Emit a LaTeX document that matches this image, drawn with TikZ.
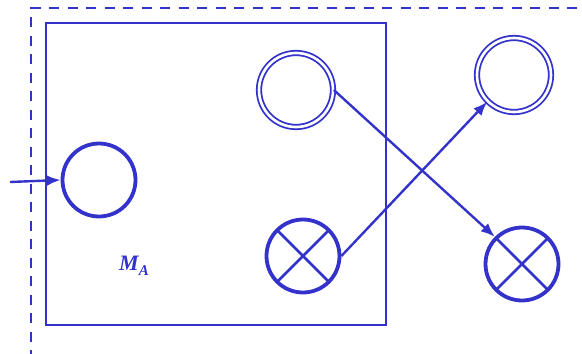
\documentclass[tikz,border=0pt]{standalone}
\usepackage{fontspec}
\newfontfamily\lserif{Liberation Serif}
\usetikzlibrary{arrows.meta}
\definecolor{bl}{RGB}{51,51,204}
\tikzset{
  thickc/.style={circle,draw=bl,line width=3.8pt,minimum size=73pt,inner sep=0pt},
  dblc/.style={circle,draw=bl,line width=1.8pt,double=white,double distance=2.6pt,minimum size=74pt,inner sep=0pt},
  xc/.style={thickc,path picture={\draw[bl,line width=2.6pt] (path picture bounding box.north west)--(path picture bounding box.south east) (path picture bounding box.north east)--(path picture bounding box.south west);}},
  conn/.style={draw=bl,line width=2.4pt,-{Latex[length=14pt,width=11pt]}},
  lab/.style={text=bl,font={\lserif\bfseries\itshape\fontsize{22}{24}\selectfont},inner sep=0pt}
}
\begin{document}
\begin{tikzpicture}[x=1pt,y=-1pt]
\useasboundingbox (0,0) rectangle (582,354);
\draw[bl,line width=2.6pt,dash pattern=on 10pt off 8.5pt] (31,360) -- (31,8) -- (590,8);
\node[draw=bl,line width=2.6pt,minimum width=340pt,minimum height=302pt,inner sep=0pt] (box) at (216,174) {};
\node[thickc] (inp) at (99,180) {};
\node[dblc] (da) at (296,90) {};
\node[xc] (xa) at (303,256) {};
\node[dblc] (db) at (514,75) {};
\node[xc] (xb) at (522,264) {};
\coordinate (src) at (10,182);
\draw[conn] (src) -- (inp.west);
\draw[conn] (da.east) -- (xb.north west);
\draw[conn] (xa.east) -- (db.south west);
\node[lab,anchor=base west] (lbl) at (119,270) {M\raisebox{-5pt}{\fontsize{15}{16}\selectfont A}};
\end{tikzpicture}
\end{document}
